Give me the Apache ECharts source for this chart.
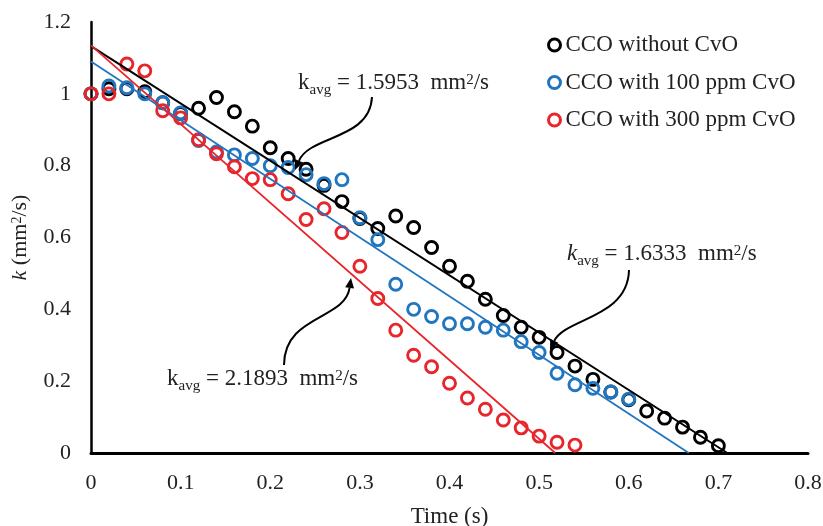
<!DOCTYPE html>
<html>
<head>
<meta charset="utf-8">
<script src="https://cdn.jsdelivr.net/npm/echarts@6/dist/echarts.min.js"></script>
<style>
  html, body { margin: 0; padding: 0; background: #fff; }
  #chart { width: 823px; height: 526px; }
</style>
</head>
<body>
<div id="chart"></div>
<script>
// time steps (s)
const times = [0, 0.02, 0.04, 0.06, 0.08, 0.10, 0.12, 0.14, 0.16, 0.18, 0.20, 0.22,
  0.24, 0.26, 0.28, 0.30, 0.32, 0.34, 0.36, 0.38, 0.40, 0.42, 0.44, 0.46, 0.48, 0.50,
  0.52, 0.54, 0.56, 0.58, 0.60, 0.62, 0.64, 0.66, 0.68, 0.70];

// k (mm2/s)
const kWithout = [1.0, 1.014, 1.014, 1.006, 0.975, 0.945, 0.96, 0.99, 0.95, 0.91, 0.85, 0.82,
  0.79, 0.745, 0.70, 0.653, 0.625, 0.66, 0.628, 0.572, 0.52, 0.478, 0.428, 0.383, 0.35, 0.322,
  0.28, 0.242, 0.205, 0.17, 0.148, 0.117, 0.097, 0.072, 0.044, 0.02];
const k100 = [1.0, 1.022, 1.017, 1.0, 0.975, 0.947, 0.87, 0.838, 0.83, 0.82, 0.80, 0.795,
  0.775, 0.75, 0.761, 0.655, 0.594, 0.47, 0.40, 0.38, 0.36, 0.36, 0.35, 0.342, 0.31, 0.28,
  0.222, 0.19, 0.18, 0.17, 0.15];
const k300 = [1.0, 1.0, 1.083, 1.064, 0.953, 0.933, 0.872, 0.833, 0.797, 0.764, 0.761, 0.722,
  0.65, 0.68, 0.614, 0.52, 0.43, 0.342, 0.272, 0.24, 0.194, 0.153, 0.122, 0.092, 0.07, 0.047,
  0.03, 0.022];

// linear trend lines, end points
const fitWithout = [[0, 1.133], [0.71, 0]];
const fit100 = [[0, 1.09], [0.667, 0]];
const fit300 = [[0, 1.135], [0.518, 0]];

const names = ['CCO without CvO', 'CCO with 100 ppm CvO', 'CCO with 300 ppm CvO'];
const colors = ['#000000', '#2176c0', '#e8252b'];

const FONT = 'Liberation Serif';
const TXT = '#222';

function pairs(arr) {
  return arr.map((v, i) => [times[i], v]);
}

const rich = {
  k: { fontSize: 23, fontFamily: FONT, lineHeight: 26, verticalAlign: 'top' },
  ki: { fontSize: 23, fontFamily: FONT, fontStyle: 'italic', lineHeight: 26, verticalAlign: 'top' },
  s: { fontSize: 15, fontFamily: FONT, lineHeight: 16, padding: [12, 0, 0, 0], verticalAlign: 'top' },
  p: { fontSize: 15, fontFamily: FONT, lineHeight: 16, padding: [2, 0, 0, 0], verticalAlign: 'top' }
};

function label(x, y, kToken, value) {
  return {
    type: 'text',
    z: 100,
    style: {
      x: x, y: y,
      text: '{' + kToken + '|k}{s|avg}{k| = ' + value + '  mm}{p|2}{k|/s}',
      rich: rich,
      fill: TXT,
      textAlign: 'left',
      textVerticalAlign: 'top'
    }
  };
}

function arrow(p0, c1, c2, p3) {
  const dx = p3[0] - c2[0], dy = p3[1] - c2[1];
  const len = Math.hypot(dx, dy);
  const ux = dx / len, uy = dy / len;
  const L = 10, W = 4.5;
  const base = [p3[0] - ux * L, p3[1] - uy * L];
  const left = [base[0] - uy * W, base[1] + ux * W];
  const right = [base[0] + uy * W, base[1] - ux * W];
  return [
    {
      type: 'bezierCurve', z: 100,
      shape: { x1: p0[0], y1: p0[1], cpx1: c1[0], cpy1: c1[1], cpx2: c2[0], cpy2: c2[1], x2: base[0], y2: base[1] },
      style: { stroke: '#000', lineWidth: 2, fill: null }
    },
    { type: 'polygon', z: 100, shape: { points: [p3, left, right] }, style: { fill: '#000' } }
  ];
}

const chart = echarts.init(document.getElementById('chart'));

const scatter = [kWithout, k100, k300].map((arr, i) => ({
  name: names[i],
  type: 'scatter',
  symbol: 'circle',
  symbolSize: 12,
  z: 2,
  itemStyle: { color: 'rgba(0,0,0,0)', borderColor: colors[i], borderWidth: 2.9, opacity: 1 },
  data: pairs(arr)
}));

const fits = [fitWithout, fit100, fit300].map((d, i) => ({
  name: names[i] + ' fit',
  type: 'line',
  symbol: 'none',
  silent: true,
  z: 3,
  lineStyle: { color: colors[i], width: i === 0 ? 2 : 1.8 },
  data: d
}));

chart.setOption({
  animation: false,
  grid: { left: 91, right: 15, top: 22, bottom: 73, outerBoundsMode: 'none' },
  legend: {
    orient: 'vertical',
    left: 542,
    top: 27,
    itemWidth: 12,
    itemHeight: 12,
    itemGap: 11.5,
    itemTextGap: 7,
    selectedMode: false,
    textStyle: { fontFamily: FONT, fontSize: 23, color: TXT, lineHeight: 26 },
    data: names.map((n, i) => ({
      name: n,
      icon: 'circle',
      itemStyle: { color: '#fff', borderColor: colors[i], borderWidth: 3, opacity: 1 }
    }))
  },
  xAxis: {
    type: 'value',
    min: 0,
    max: 0.8,
    interval: 0.1,
    name: 'Time (s)',
    nameLocation: 'middle',
    nameGap: 52,
    nameTextStyle: { fontFamily: FONT, fontSize: 23, color: TXT },
    axisLine: { lineStyle: { color: '#000', width: 3 } },
    axisTick: { show: false },
    splitLine: { show: false },
    axisLabel: { fontFamily: FONT, fontSize: 22, color: TXT, margin: 19 }
  },
  yAxis: {
    type: 'value',
    min: 0,
    max: 1.2,
    interval: 0.2,
    name: '{i|k} (mm{p|2}/s)',
    nameLocation: 'middle',
    nameRotate: 90,
    nameGap: 56,
    nameTextStyle: {
      fontFamily: FONT, fontSize: 22, color: TXT, lineHeight: 24,
      rich: {
        i: { fontFamily: FONT, fontSize: 22, fontStyle: 'italic', color: TXT, lineHeight: 24 },
        p: { fontFamily: FONT, fontSize: 14, color: TXT, lineHeight: 14, padding: [2, 0, 0, 0], verticalAlign: 'top' }
      }
    },
    axisLine: { show: true, lineStyle: { color: '#000', width: 2.5 } },
    axisTick: { show: false },
    splitLine: { show: false },
    axisLabel: { fontFamily: FONT, fontSize: 22, color: TXT, margin: 20 }
  },
  graphic: [
    label(298, 71, 'k', '1.5953'),
    ...arrow([372, 97], [370, 140], [310, 135], [295, 170]),
    label(567, 242, 'ki', '1.6333'),
    ...arrow([629, 270], [628, 318], [565, 318], [550, 350]),
    label(167, 367, 'k', '2.1893'),
    ...arrow([284, 365], [284, 315], [345, 320], [351, 278])
  ],
  series: [...scatter, ...fits]
});
</script>
</body>
</html>
